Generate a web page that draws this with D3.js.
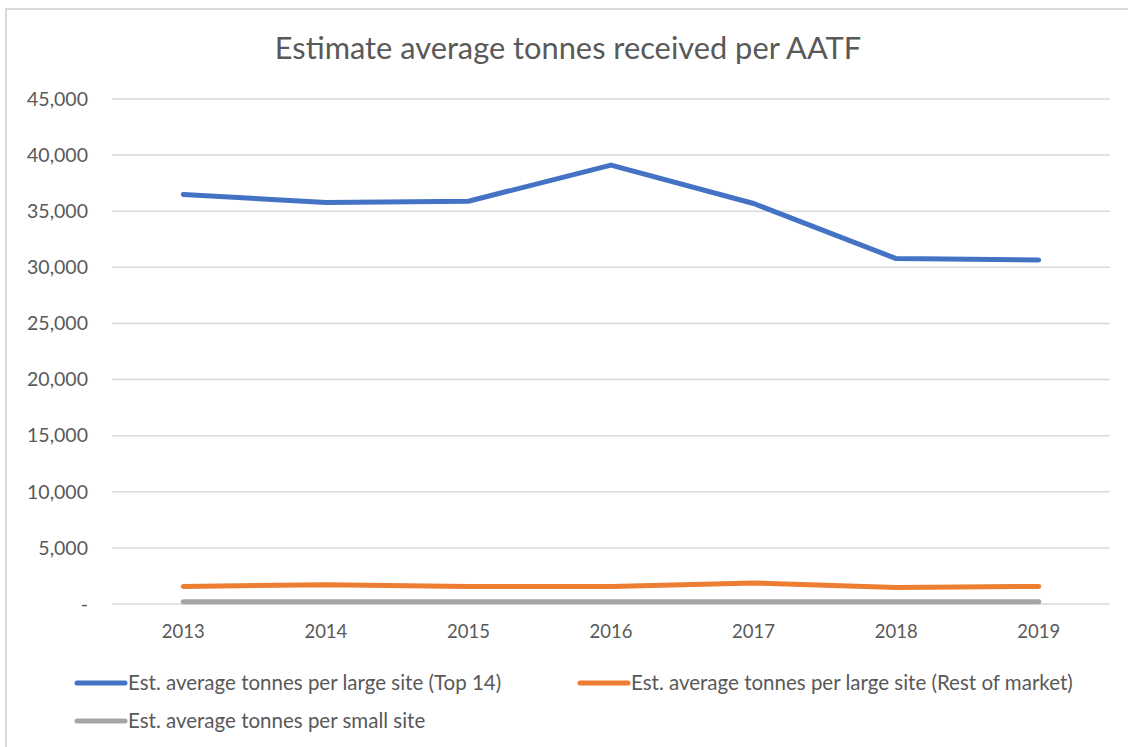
<!DOCTYPE html>
<html>
<head>
<meta charset="utf-8">
<script src="https://cdn.jsdelivr.net/npm/d3@7"></script>
<style>
  body { margin: 0; background: #fff; }
  svg text { font-family: Lato, "Open Sans", sans-serif; fill: #595959; }
</style>
</head>
<body>
<svg id="chart" width="1130" height="747"></svg>
<script>
var years = ["2013", "2014", "2015", "2016", "2017", "2018", "2019"];
var top14 = [36490, 35780, 35890, 39110, 35690, 30780, 30650];
var restOfMarket = [1570, 1720, 1570, 1570, 1875, 1480, 1570];
var smallSite = [200, 200, 200, 200, 200, 200, 200];
var yTicks = [0, 5000, 10000, 15000, 20000, 25000, 30000, 35000, 40000, 45000];
var seriesNames = ["Est. average tonnes per large site (Top 14)", "Est. average tonnes per large site (Rest of market)", "Est. average tonnes per small site"];
var seriesColors = ["#4472c4", "#ed7d31", "#a5a5a5"];

var series = [
  {name: seriesNames[0], color: seriesColors[0], values: top14},
  {name: seriesNames[1], color: seriesColors[1], values: restOfMarket},
  {name: seriesNames[2], color: seriesColors[2], values: smallSite}
];

var svg = d3.select("#chart");

// outer chart border (only top/left show)
svg.append("path")
  .attr("d", "M6,747 L6,9 L1128,9")
  .attr("fill", "none")
  .attr("stroke", "#d9d9d9")
  .attr("stroke-width", 2);

svg.append("text")
  .attr("x", 568).attr("y", 59)
  .attr("text-anchor", "middle")
  .style("font-size", "30.8px")
  .text("Estimate average tonnes received per AATF");

var plotLeft = 112, plotRight = 1110, plotTop = 99, plotBottom = 604;

var x = d3.scaleBand().domain(years).range([plotLeft, plotRight]);
var y = d3.scaleLinear().domain([0, 45000]).range([plotBottom, plotTop]);

// gridlines
svg.append("g").selectAll("line")
  .data(yTicks)
  .join("line")
  .attr("x1", plotLeft).attr("x2", plotRight)
  .attr("y1", d => y(d)).attr("y2", d => y(d))
  .attr("stroke", "#d9d9d9")
  .attr("stroke-width", 1.5);

var yAxis = svg.append("g")
  .attr("transform", "translate(" + 88 + ",0)")
  .call(d3.axisLeft(y).tickValues(yTicks).tickSize(0).tickPadding(0)
    .tickFormat(d => d == 0 ? "-" : d3.format(",")(d)));
yAxis.select(".domain").remove();
yAxis.selectAll("text").style("font-size", "19.5px").attr("fill", "#595959").attr("font-family", null);

var xAxis = svg.append("g")
  .attr("transform", "translate(0," + plotBottom + ")")
  .call(d3.axisBottom(x).tickSize(0).tickPadding(21));
xAxis.select(".domain").remove();
xAxis.selectAll("text").style("font-size", "18.5px").attr("fill", "#595959").attr("font-family", null);

var line = d3.line()
  .x((d, i) => x(years[i]) + x.bandwidth() / 2)
  .y(d => y(d));

// draw gray first so others sit on top
svg.append("g").selectAll("path")
  .data(series.slice().reverse())
  .join("path")
  .attr("d", d => line(d.values))
  .attr("fill", "none")
  .attr("stroke", d => d.color)
  .attr("stroke-width", 5)
  .attr("stroke-linecap", "round")
  .attr("stroke-linejoin", "round");

// legend
var legendPos = [[75, 683], [578, 683], [75, 721]];
var legend = svg.append("g").selectAll("g")
  .data(series)
  .join("g")
  .attr("transform", (d, i) => "translate(" + legendPos[i][0] + "," + legendPos[i][1] + ")");
legend.append("line")
  .attr("x1", 2).attr("x2", 50)
  .attr("stroke", d => d.color)
  .attr("stroke-width", 5)
  .attr("stroke-linecap", "round");
legend.append("text")
  .attr("x", 53).attr("dy", "0.35em")
  .style("font-size", "20.5px")
  .text(d => d.name);
</script>
</body>
</html>
